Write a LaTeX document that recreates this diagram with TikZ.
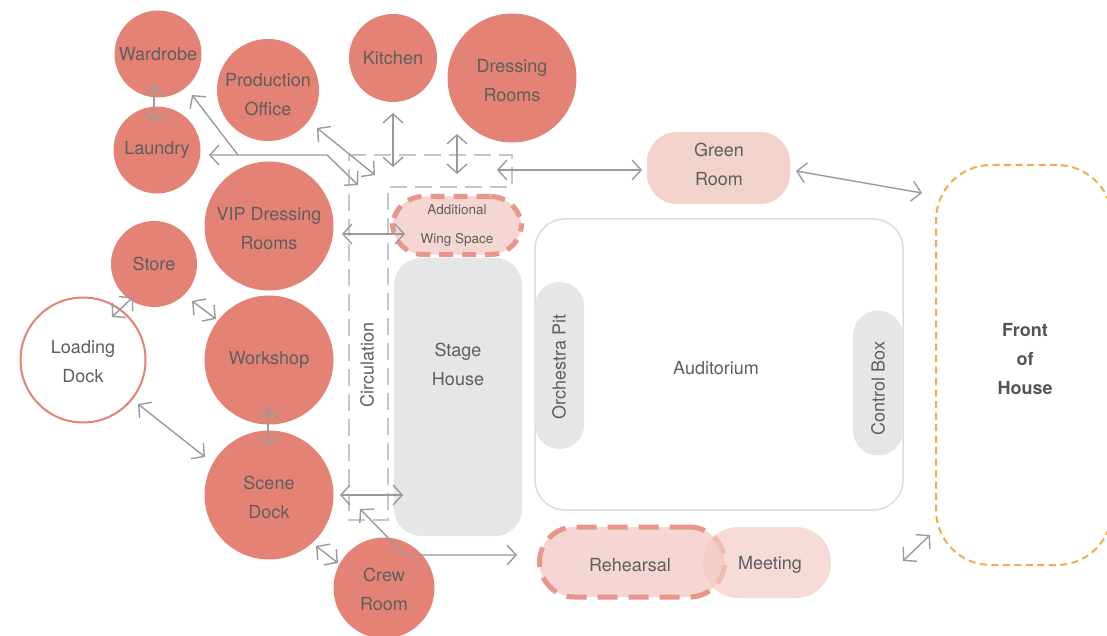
\documentclass[tikz,border=0pt]{standalone}
\usepackage{fontspec}
\setmainfont{TeX Gyre Heros}
\usetikzlibrary{arrows.meta}
\definecolor{salmon}{HTML}{E48275}
\definecolor{txt}{HTML}{5E5E5E}
\definecolor{arrowgray}{HTML}{9A9A9C}
\definecolor{circgray}{HTML}{C6C7C9}
\definecolor{stagegray}{HTML}{E5E6E8}
\definecolor{audgray}{HTML}{DCDCDC}
\definecolor{greenfill}{HTML}{F2D3CB}
\definecolor{pinkfill}{HTML}{F6D6D2}
\definecolor{dashsalmon}{HTML}{E8958A}
\definecolor{meetfill}{HTML}{F3CCC6}
\definecolor{fohorange}{HTML}{F8A94E}
\tikzset{
  lbl/.style={text=txt, align=center, inner sep=0pt, font=\fontsize{18}{29}\selectfont},
  room/.style={lbl, circle, fill=salmon, minimum size=#1},
  link/.style={draw=arrowgray, line width=1.4pt, {Straight Barb[length=9pt,width=20pt]}-{Straight Barb[length=9pt,width=20pt]}},
  onelink/.style={draw=arrowgray, line width=1.4pt, -{Straight Barb[length=9pt,width=20pt]}},
  greybox/.style={lbl, fill=stagegray},
}
\begin{document}
\begin{tikzpicture}[x=1pt,y=-1pt]
\path[use as bounding box] (0,0) rectangle (1107,636);
\clip (0,0) rectangle (1107,636);

% circulation outline
\draw[circgray, line width=2pt, dash pattern=on 17pt off 8pt]
  (349,155) -- (512,155) -- (512,187) -- (388,187) -- (388,520) -- (349,520) -- cycle;
\node[lbl, rotate=90] (circl) at (367,365) {Circulation};

% auditorium
\node[draw=audgray, line width=1.5pt, rounded corners=30pt, inner sep=0pt,
      minimum width=368pt, minimum height=291pt] (aud) at (719,364.5) {};
\node[lbl] (audl) at (716,368) {Auditorium};
\node[fill=stagegray, rotate=90, rounded corners=24pt, minimum width=167pt, minimum height=49pt, inner sep=0pt]
  (pit) at (559.5,365.5) {};
\node[lbl, rotate=90] (pitl) at (559,367) {Orchestra Pit};
\node[fill=stagegray, rotate=90, rounded corners=25pt, minimum width=145pt, minimum height=50pt, inner sep=0pt]
  (ctrl) at (878,383) {};
\node[lbl, rotate=90] (ctrll) at (878,388.5) {Control Box};

% stage house
\node[fill=stagegray, rounded corners=27pt, minimum width=128pt, minimum height=278pt, inner sep=0pt]
  (stage) at (458,397) {};
\node[lbl] (stagel) at (458,364) {Stage\\House};

% additional wing space
\node[lbl, fill=pinkfill, draw=dashsalmon, line width=5pt, dash pattern=on 14pt off 9pt,
      rounded corners=31pt, minimum width=129pt, minimum height=58pt,
      font=\fontsize{13.5}{29}\selectfont]
  (wing) at (457,225.5) {Additional\\Wing Space};

% green room
\node[fill=greenfill, rounded corners=30pt, minimum width=143pt, minimum height=72pt, inner sep=0pt]
  (green) at (718.5,168) {};
\node[lbl] (greenl) at (719,164.5) {Green\\Room};

% rehearsal & meeting
\node[fill=pinkfill, draw=dashsalmon, line width=5pt, dash pattern=on 20pt off 11pt,
      rounded corners=35pt, minimum width=185pt, minimum height=70pt, inner sep=0pt]
  (reh) at (632,562) {};
\node[fill=meetfill, fill opacity=0.7, rounded corners=35pt,
      minimum width=128pt, minimum height=71pt, inner sep=0pt]
  (meet) at (767,562.5) {};
\node[lbl] (rehl) at (630,565) {Rehearsal};
\node[lbl] (meetl) at (770,565) {Meeting};

% front of house
\node[draw=fohorange, line width=2pt, dash pattern=on 7pt off 4.5pt, rounded corners=55pt,
      minimum width=176pt, minimum height=400pt, inner sep=0pt]
  (foh) at (1024,365) {};
\node[lbl, font=\fontsize{18}{29}\selectfont\bfseries, text=txt!90!black] (fohl) at (1025,359) {Front\\of\\House};

% circles
\node[room=87pt] (ward) at (158,54) {Wardrobe};
\node[room=87pt] (laun) at (157,150) {Laundry};
\node[room=102pt] (prod) at (268,90) {};
\node[lbl] (prodl) at (268,95) {Production\\Office};
\node[room=88pt] (kit) at (393,58) {Kitchen};
\node[room=129pt] (dress) at (512,78) {};
\node[lbl] (dressl) at (512,81) {Dressing\\Rooms};
\node[room=129pt] (vip) at (269,226) {};
\node[lbl] (vipl) at (269,228.5) {VIP Dressing\\Rooms};
\node[room=86pt] (store) at (154,264) {Store};
\node[lbl, circle, draw=salmon, line width=2pt, fill=white, minimum size=125pt] (load) at (83,360) {};
\node[lbl] (loadl) at (83,362) {Loading\\Dock};
\node[room=129pt] (work) at (269,360) {Workshop};
\node[room=129pt] (scene) at (269,495) {};
\node[lbl] (scenel) at (269,497.5) {Scene\\Dock};
\node[room=101pt] (crew) at (384,588) {};
\node[lbl] (crewl) at (384,589) {Crew\\Room};

% connector end points
\coordinate (wardA) at (154,85);   \coordinate (launA) at (154,122);
\coordinate (launB) at (209,155);  \coordinate (launBend) at (327,155);
\coordinate (circA) at (358,185);  \coordinate (launJ) at (238,155);
\coordinate (wardB) at (192,95);
\coordinate (prodA) at (317,128);  \coordinate (circB) at (375,175);
\coordinate (kitA) at (393,113);   \coordinate (circC) at (393,167);
\coordinate (dressA) at (457,134); \coordinate (circD) at (457,174);
\coordinate (circE) at (497,170);  \coordinate (greenA) at (642,170);
\coordinate (greenB) at (796,171); \coordinate (fohA) at (922,193);
\coordinate (vipA) at (342,234);   \coordinate (wingA) at (405,234);
\coordinate (storeA) at (133,297); \coordinate (loadA) at (112,317);
\coordinate (storeB) at (192,301); \coordinate (workA) at (216,319);
\coordinate (workB) at (268,408);  \coordinate (sceneA) at (268,446);
\coordinate (loadB) at (138,404);  \coordinate (sceneB) at (205,457);
\coordinate (sceneC) at (340,495); \coordinate (circF) at (403,495);
\coordinate (circG) at (360,509);  \coordinate (rehBend) at (405,555);
\coordinate (rehA) at (517,555);
\coordinate (sceneD) at (316,546); \coordinate (crewA) at (338,563);
\coordinate (audA) at (903,561);   \coordinate (fohB) at (930,535);

% connectors
\draw[link] (wardA) -- (launA);
\draw[link] (launB) -- (launBend) -- (circA);
\draw[onelink] (launJ) -- (wardB);
\draw[link] (prodA) -- (circB);
\draw[link] (kitA) -- (circC);
\draw[link] (dressA) -- (circD);
\draw[link] (circE) -- (greenA);
\draw[link] (greenB) -- (fohA);
\draw[link] (vipA) -- (wingA);
\draw[link] (loadA) -- (storeA);
\draw[link] (storeB) -- (workA);
\draw[link] (workB) -- (sceneA);
\draw[link] (loadB) -- (sceneB);
\draw[link] (sceneC) -- (circF);
\draw[link] (circG) -- (rehBend) -- (rehA);
\draw[link] (sceneD) -- (crewA);
\draw[link] (audA) -- (fohB);
\end{tikzpicture}
\end{document}
